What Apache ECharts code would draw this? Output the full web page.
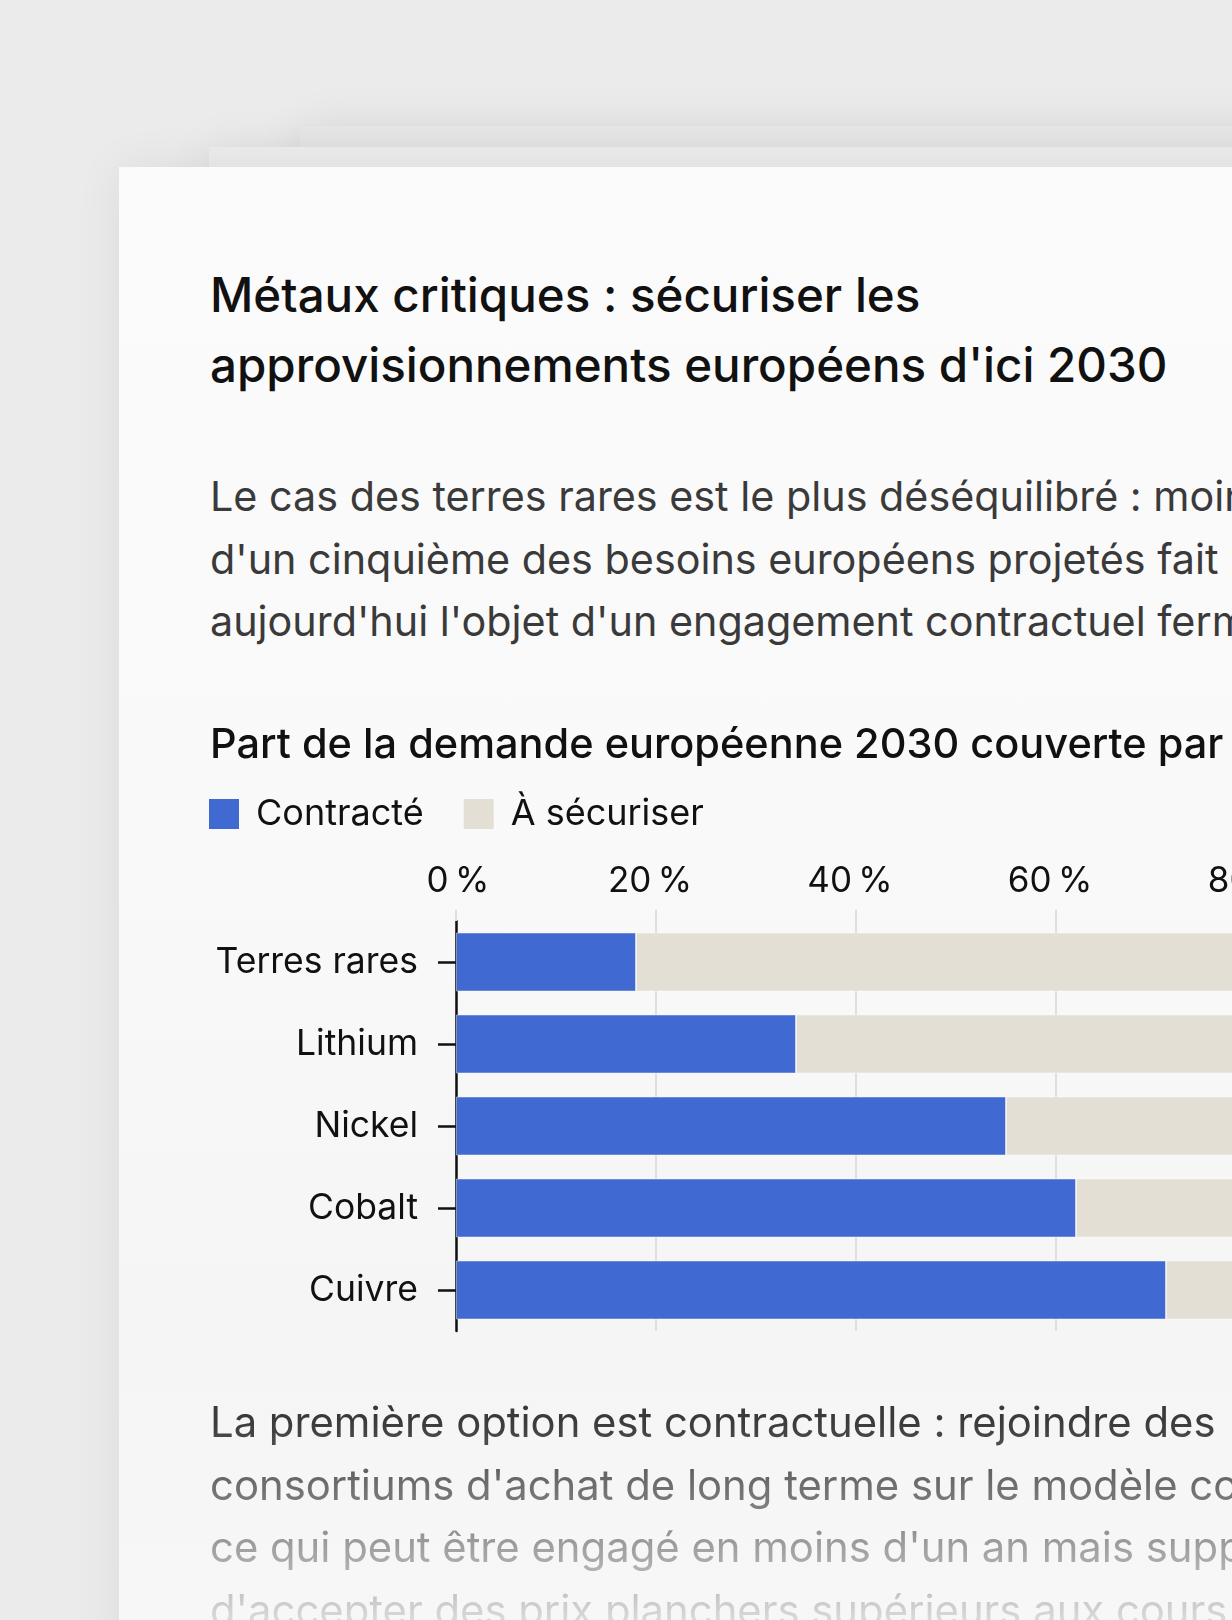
<!DOCTYPE html>
<html lang="fr">
<head>
<meta charset="utf-8">
<title>Métaux critiques</title>
<script src="https://cdn.jsdelivr.net/npm/echarts@6/dist/echarts.min.js"></script>
<style>
  html, body {
    margin: 0;
    padding: 0;
  }
  body {
    width: 1232px;
    height: 1620px;
    overflow: hidden;
    position: relative;
    background: #ebebeb;
    font-family: Inter, "Noto Sans", sans-serif;
  }
  .card {
    position: absolute;
    width: 1600px;
    height: 1700px;
    box-shadow: 0 0 45px rgba(0, 0, 0, 0.07);
  }
  .c3 { left: 300px; top: 126px; background: #e8e8e8; }
  .c2 { left: 209px; top: 147px; background: #ececec; }
  .c1 {
    left: 119px;
    top: 167px;
    background: linear-gradient(#fbfbfb 0, #f9f9f9 700px, #f5f5f5 1150px, #f7f7f7 1453px);
  }
  .title {
    position: absolute;
    left: 210px;
    top: 260px;
    margin: 0;
    font-size: 47.5px;
    line-height: 70px;
    font-weight: 500;
    color: #111;
    white-space: nowrap;
  }
  .para {
    position: absolute;
    left: 210px;
    margin: 0;
    line-height: 62.5px;
    font-weight: 400;
    color: #3a3a3a;
    white-space: nowrap;
  }
  .lede { top: 465px; font-size: 41.3px; }
  .next {
    top: 1391px;
    height: 265px;
    font-size: 41.8px;
    -webkit-mask-image: linear-gradient(to bottom, #000 0, #000 30px, transparent 265px);
    mask-image: linear-gradient(to bottom, #000 0, #000 30px, transparent 265px);
  }
  #chart {
    position: absolute;
    left: 0;
    top: 680px;
    width: 1600px;
    height: 700px;
  }
</style>
</head>
<body>
<div class="card c3"></div>
<div class="card c2"></div>
<div class="card c1"></div>

<h1 class="title">Métaux critiques : sécuriser les<br>approvisionnements européens d'ici 2030</h1>

<p class="para lede">Le cas des terres rares est le plus déséquilibré : moins<br>d'un cinquième des besoins européens projetés fait<br>aujourd'hui l'objet d'un engagement contractuel ferme.</p>

<div id="chart"></div>

<p class="para next">La première option est contractuelle : rejoindre des<br>consortiums d'achat de long terme sur le modèle coopératif,<br>ce qui peut être engagé en moins d'un an mais suppose<br>d'accepter des prix planchers supérieurs aux cours actuels.</p>

<script>
var metals = ['Terres rares', 'Lithium', 'Nickel', 'Cobalt', 'Cuivre'];
var contracted = [18, 34, 55, 62, 71];
var toSecure = [82, 66, 45, 38, 29];
var pctTicks = [0, 20, 40, 60, 80, 100];

var BLUE = '#4169d2',
    BEIGE = '#e3dfd5',
    INK = '#111';

var chart = echarts.init(document.getElementById('chart'), null, { renderer: 'canvas' });

chart.setOption({
    animation: false,
    textStyle: { fontFamily: 'Inter' },
    title: {
        text: 'Part de la demande européenne 2030 couverte par des contrats fermes',
        left: 210,
        top: 46,
        padding: 0,
        textStyle: {
            fontFamily: 'Inter',
            fontSize: 41.5,
            lineHeight: 40,
            fontWeight: 500,
            color: INK
        }
    },
    legend: {
        left: 209,
        top: 116,
        padding: 0,
        itemWidth: 30,
        itemHeight: 30,
        itemGap: 40,
        icon: 'rect',
        itemStyle: { borderWidth: 0 },
        textStyle: {
            fontFamily: 'Inter',
            fontSize: 36,
            lineHeight: 36,
            color: INK,
            padding: [0, 0, 0, 12]
        },
        data: ['Contracté', 'À sécuriser']
    },
    grid: {
        left: 456,
        top: 241,
        width: 1000,
        height: 410,
        containLabel: false
    },
    xAxis: {
        type: 'value',
        position: 'top',
        min: pctTicks[0],
        max: pctTicks[pctTicks.length - 1],
        interval: pctTicks[1] - pctTicks[0],
        axisLine: { show: false },
        axisTick: {
            show: true,
            length: 11,
            lineStyle: { color: '#dfdfdf', width: 2 }
        },
        splitLine: {
            show: true,
            lineStyle: { color: '#dfdfdf', width: 2 }
        },
        axisLabel: {
            margin: 22,
            fontFamily: 'Inter',
            fontSize: 35,
            lineHeight: 35,
            color: INK,
            // the reference sets its labels slightly left of the gridlines
            formatter: function(v) {
                return (v === 0 ? '{z|' : '{n|') + v + '\u202f%}';
            },
            rich: {
                z: { fontFamily: 'Inter', fontSize: 35, color: INK, padding: [0, 0, 0, 4] },
                n: { fontFamily: 'Inter', fontSize: 35, color: INK, padding: [0, 12, 0, 0] }
            }
        }
    },
    yAxis: {
        type: 'category',
        inverse: true,
        data: metals,
        axisLine: { show: true, lineStyle: { color: INK, width: 2.5 } },
        axisTick: {
            show: true,
            alignWithLabel: true,
            length: 18,
            lineStyle: { color: INK, width: 2.5 }
        },
        axisLabel: {
            margin: 38,
            fontFamily: 'Inter',
            fontSize: 35.5,
            color: INK
        },
        splitLine: { show: false }
    },
    series: [
        {
            name: 'Contracté',
            type: 'bar',
            stack: 'total',
            barWidth: 59,
            data: contracted,
            itemStyle: { color: BLUE, borderColor: 'rgba(255,255,255,0.45)', borderWidth: 1 }
        },
        {
            name: 'À sécuriser',
            type: 'bar',
            stack: 'total',
            barWidth: 59,
            data: toSecure,
            itemStyle: { color: BEIGE, borderColor: 'rgba(255,255,255,0.45)', borderWidth: 1 }
        }
    ]
});
</script>
</body>
</html>
